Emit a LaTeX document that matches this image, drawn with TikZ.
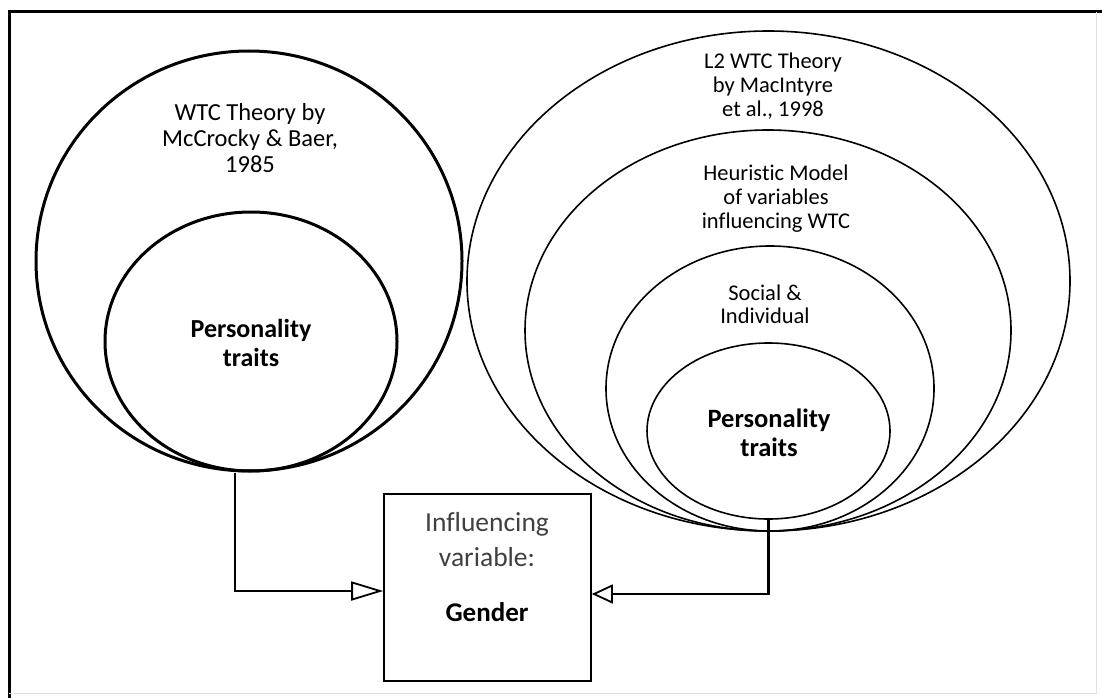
\documentclass[tikz,border=0pt]{standalone}
\usepackage{fontspec}
\setmainfont{Carlito}[Ligatures=NoCommon]
\usetikzlibrary{arrows.meta,shapes.geometric}
\begin{document}
\begin{tikzpicture}[x=1pt, y=-1pt,
    thickring/.style={draw, ellipse, line width=3pt, inner sep=0pt},
    thinring/.style={draw, ellipse, line width=1.6pt, inner sep=0pt},
    ttl/.style={align=center, text=black},
    link/.style={line width=2.2pt}]
    \useasboundingbox (0,0) rectangle (1102,698);
    % frame
    \draw[line width=3pt] (9,698)--(9,12)--(1102,12);
    \draw[black!12] (1096,12)--(1096,693)--(9,693);
    
    % left: McCrocky & Baer
    \node[thickring, minimum width=426pt, minimum height=420pt] (wtc) at (249,261) {};
    \node[thickring, minimum width=292pt, minimum height=259pt] (wtcin) at (251,341.5) {};
    \node[ttl, font=\fontsize{24.5}{26}\selectfont] (wtcname) at (250,138) {WTC Theory by\\McCrocky \& Baer,\\1985};
    \node[ttl, font=\fontsize{26}{29}\selectfont\bfseries] (pers1) at (251,342.5) {Personality\\traits};
    
    % right: MacIntyre et al.
    \node[thinring, minimum width=603pt, minimum height=500pt] (ltwo) at (768.5,281) {};
    \node[thinring, minimum width=486pt, minimum height=401pt] (heur) at (768,330.5) {};
    \node[thinring, minimum width=328pt, minimum height=285pt] (soc) at (770,388.5) {};
    \node[thinring, minimum width=243pt, minimum height=176pt] (persring) at (768.5,431) {};
    \node[ttl, font=\fontsize{22.5}{24}\selectfont] (ltwoname) at (773,86) {L2 WTC Theory\\by MacIntyre\\et al., 1998};
    \node[ttl, font=\fontsize{22.5}{24}\selectfont] (heurname) at (776,199) {Heuristic Model\\of variables\\influencing WTC};
    \node[ttl, font=\fontsize{22.5}{23}\selectfont] (socname) at (765,304.5) {Social \&\\Individual};
    \node[ttl, font=\fontsize{26.5}{29}\selectfont\bfseries] (pers2) at (769,432.5) {Personality\\traits};
    
    % gender box
    \node[draw, line width=1.6pt, minimum width=207pt, minimum height=187pt] (gvar) at (487.5,587.5) {};
    \node[ttl, text=black!75, font=\fontsize{27.5}{35}\selectfont] (gvartxt) at (487,539.5) {Influencing\\variable:};
    \node[ttl, font=\fontsize{27}{30}\selectfont\bfseries] (gname) at (487,612) {Gender};
    
    \draw[link, -{Triangle[open, length=32pt, width=19pt, line width=1.8pt, fill=white]}]
        ([xshift=-16pt]wtcin.south) |- ([yshift=-3.5pt]gvar.west);
    \draw[link, -{Triangle[open, length=21pt, width=19pt, line width=1.8pt, fill=white]}]
        (persring.south) |- ([yshift=-6.5pt]gvar.east);
\end{tikzpicture}
\end{document}
